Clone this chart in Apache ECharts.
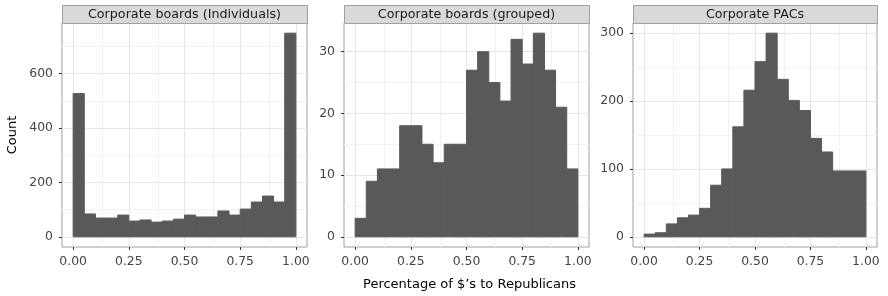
<!DOCTYPE html>
<html><head><meta charset="utf-8">
<script src="https://cdn.jsdelivr.net/npm/echarts@6/dist/echarts.min.js"></script>
<style>html,body{margin:0;padding:0;background:#fff}#c{width:888px;height:296px}</style>
</head><body><div id="c"></div>
<script>
// ---- data ----
const panelTitles = ['Corporate boards (Individuals)', 'Corporate boards (grouped)', 'Corporate PACs'];
const binEdges = [0, 0.05, 0.10, 0.15, 0.20, 0.25, 0.30, 0.35, 0.40, 0.45, 0.50, 0.55, 0.60, 0.65, 0.70, 0.75, 0.80, 0.85, 0.90, 0.95, 1.00];
const individualsCounts = [527, 84, 69, 69, 80, 58, 62, 54, 58, 65, 80, 73, 73, 95, 80, 102, 128, 150, 128, 749];
const groupedCounts = [3, 9, 11, 11, 18, 18, 15, 12, 15, 15, 27, 30, 25, 22, 32, 28, 33, 27, 21, 11];
const pacsCounts = [4, 6, 19, 28, 32, 42, 76, 100, 162, 216, 258, 300, 232, 201, 186, 145, 125, 97, 97, 97];
const xTicks = [0, 0.25, 0.5, 0.75, 1];
const xTickLabels = ['0.00', '0.25', '0.50', '0.75', '1.00'];
const xMinor = [0.125, 0.375, 0.625, 0.875];
const yTicks = [[0, 200, 400, 600], [0, 10, 20, 30], [0, 100, 200, 300]];
const yMinor = [[100, 300, 500, 700], [5, 15, 25], [50, 150, 250]];
const yTitle = 'Count';
const xTitle = 'Percentage of $’s to Republicans';

// ---- layout ----
const FONT = 'DejaVu Sans';
const panels = [{left: 62, width: 245}, {left: 344, width: 245}, {left: 633, width: 244}];
const PTOP = 23, PH = 224, STRIP_TOP = 5;
const allCounts = [individualsCounts, groupedCounts, pacsCounts];

const grids = [], xAxes = [], yAxes = [], series = [], graphics = [];
allCounts.forEach((counts, k) => {
  const p = panels[k];
  grids.push({left: p.left, top: PTOP, width: p.width, height: PH, show: true,
    borderColor: '#a0a0a0', borderWidth: 1, backgroundColor: '#fff', containLabel: false});
  xAxes.push({type: 'value', gridIndex: k, min: -0.05, max: 1.05,
    axisLine: {show: false, onZero: false},
    axisTick: {show: true, length: 3, customValues: xTicks, lineStyle: {color: '#333', width: 1}},
    axisLabel: {customValues: xTicks, formatter: v => xTickLabels[xTicks.indexOf(v)] ?? v.toFixed(2),
      color: '#444', fontFamily: FONT, fontSize: 12.4, margin: 9},
    splitLine: {show: false}});
  const mx = Math.max(...counts);
  yAxes.push({type: 'value', gridIndex: k, min: -0.05 * mx, max: 1.05 * mx,
    axisLine: {show: false, onZero: false},
    axisTick: {show: true, length: 3, customValues: yTicks[k], lineStyle: {color: '#333', width: 1}},
    axisLabel: {customValues: yTicks[k], color: '#444', fontFamily: FONT, fontSize: 12.4, margin: 9},
    splitLine: {show: false},
    name: k === 0 ? yTitle : '', nameLocation: 'middle', nameGap: 43,
    nameTextStyle: {color: '#000', fontFamily: FONT, fontSize: 13}});
  const data = counts.map((c, i) => [binEdges[i], binEdges[i + 1], c]);
  const gridLines = [];
  xMinor.forEach(v => gridLines.push({xAxis: v, lineStyle: {color: '#F2F2F2', width: 1, type: 'solid'}}));
  yMinor[k].forEach(v => gridLines.push({yAxis: v, lineStyle: {color: '#F2F2F2', width: 1, type: 'solid'}}));
  xTicks.forEach(v => gridLines.push({xAxis: v, lineStyle: {color: '#E6E6E6', width: 1, type: 'solid'}}));
  yTicks[k].forEach(v => gridLines.push({yAxis: v, lineStyle: {color: '#E6E6E6', width: 1, type: 'solid'}}));
  series.push({type: 'custom', xAxisIndex: k, yAxisIndex: k, z: 3, data: data,
    encode: {x: [0, 1], y: 2},
    renderItem: (params, api) => {
      const a = api.coord([api.value(0), 0]);
      const b = api.coord([api.value(1), api.value(2)]);
      return {type: 'rect', shape: {x: a[0], y: b[1], width: b[0] - a[0], height: a[1] - b[1]},
        style: {fill: '#595959', stroke: '#595959', lineWidth: 1}};
    },
    markLine: {silent: true, symbol: 'none', z: 1, animation: false, label: {show: false},
      emphasis: {disabled: true}, data: gridLines}});
  graphics.push({type: 'rect', left: p.left, top: STRIP_TOP, z: 10,
    shape: {x: 0, y: 0, width: p.width, height: PTOP - STRIP_TOP},
    style: {fill: '#D9D9D9', stroke: '#a0a0a0', lineWidth: 1}});
  graphics.push({type: 'text', z: 11, x: p.left + p.width / 2, y: (STRIP_TOP + PTOP) / 2 + 0.5,
    style: {text: panelTitles[k], fill: '#1A1A1A', font: '12.7px "DejaVu Sans"', textAlign: 'center', textVerticalAlign: 'middle'}});
});
graphics.push({type: 'text', z: 11, x: (panels[0].left + panels[2].left + panels[2].width) / 2, y: 284.5,
  style: {text: xTitle, fill: '#000', font: '13px "DejaVu Sans"', textAlign: 'center', textVerticalAlign: 'middle'}});

const chart = echarts.init(document.getElementById('c'), null, {renderer: 'canvas'});
chart.setOption({animation: false, backgroundColor: '#fff', grid: grids, xAxis: xAxes, yAxis: yAxes,
  series: series, graphic: graphics});
</script></body></html>
